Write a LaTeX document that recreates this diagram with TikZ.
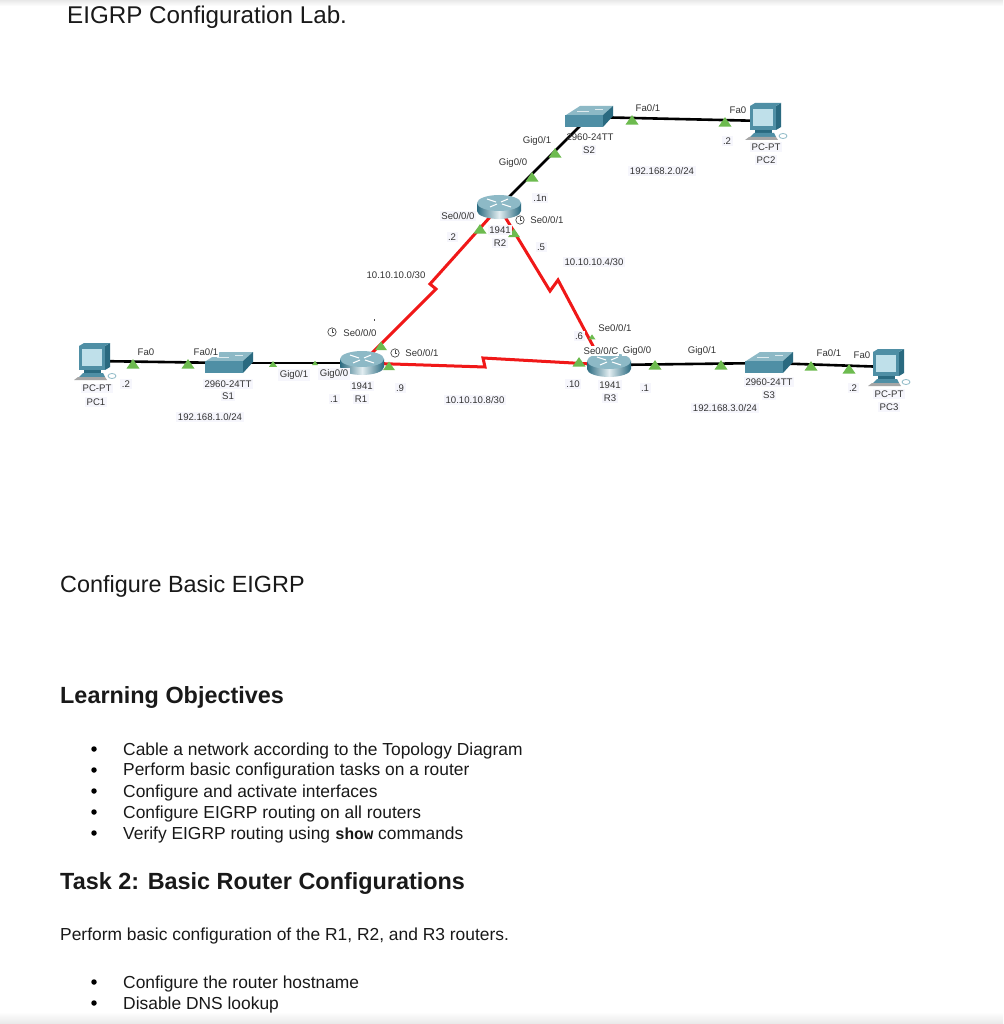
\documentclass[tikz,border=0pt]{standalone}
\usepackage{fontspec}
\setmainfont{Liberation Sans}
\setmonofont{Liberation Mono}
\definecolor{tgreen}{HTML}{6DBB4F}
\definecolor{lblbg}{HTML}{F6F6FC}
\definecolor{linkred}{HTML}{F01818}
\definecolor{tealtop}{HTML}{8DB9C6}
\definecolor{tealfront}{HTML}{4F8FA5}
\definecolor{tealdark}{HTML}{2A6A80}
\definecolor{screenc}{HTML}{BFE0EA}
\tikzset{
  devnode/.style={inner sep=0pt,outer sep=0pt,minimum width=#1},
  lbl/.style={font=\fontsize{9.6}{11}\selectfont,text=black!80,inner sep=1.5pt,fill=lblbg},
  lblplain/.style={font=\fontsize{9.6}{11}\selectfont,text=black!80,inner sep=1pt,fill=white},
  heading/.style={anchor=mid west,inner sep=0pt,font=\fontsize{23.4}{28}\selectfont,text=black!90},
  bhead/.style={anchor=mid west,inner sep=0pt,font=\fontsize{23.4}{28}\selectfont\bfseries,text=black!90},
  body/.style={anchor=mid west,inner sep=0pt,font=\fontsize{17.4}{20}\selectfont,text=black!90},
  dot/.style={circle,fill=black,inner sep=0pt,minimum size=5.5pt},
  blackline/.style={draw=black,line width=2.6pt},
  redline/.style={draw=linkred,line width=3pt,line join=miter},
}
\newcommand{\tri}[3]{\fill[tgreen] (#1-#3,#2+#3*0.7) -- (#1,#2-#3*0.75) -- (#1+#3,#2+#3*0.7) -- cycle;}
\newcommand{\clockmark}[2]{\begin{scope}[shift={(#1,#2)}]
  \draw[black!70,line width=.7pt,fill=white] (0,0) circle (4.2pt);
  \draw[black!70,line width=.7pt] (0,-2.8) -- (0,0) -- (2.4,0);
\end{scope}}
\newcommand{\routerart}[1]{\begin{scope}[shift={(#1)}]
  \shade[left color=tealdark,right color=tealdark,middle color=white!75!tealtop]
    (-22,-4) -- (-22,4) arc[x radius=22,y radius=8,start angle=180,end angle=0] -- (22,-4) -- cycle;
  \fill[tealtop] (0,-4) ellipse[x radius=22,y radius=8];
  \draw[white,line width=1pt] (-12,-8) -- (-3,-5) (12,0) -- (3,-3) (-9,0) -- (-2,-3) (9,-8) -- (2,-5);
\end{scope}}
\newcommand{\switchart}[1]{\begin{scope}[shift={(#1)}]
  \fill[tealtop] (-23,-2) -- (-9,-11) -- (24,-11) -- (14,-2) -- cycle;
  \fill[tealfront] (-24,-2) -- (14,-2) -- (14,10) -- (-24,10) -- cycle;
  \fill[tealdark] (14,-2) -- (24,-11) -- (24,-1) -- (14,10) -- cycle;
  \draw[white!70!tealtop,line width=.6pt] (-12,-6) -- (0,-6) (6,-8) -- (14,-8);
\end{scope}}
\newcommand{\pcart}[1]{\begin{scope}[shift={(#1)}]
  \fill[tealdark] (11,-15) -- (16,-18) -- (16,6) -- (11,9) -- cycle;
  \fill[tealfront] (-15,-15) -- (11,-15) -- (16,-18) -- (-10,-18) -- cycle;
  \fill[tealfront] (-15,-15) rectangle (11,9);
  \fill[screenc] (-12,-12) rectangle (8,5);
  \fill[tealdark] (-10,9) rectangle (7,12);
  \fill[tealfront] (-15,16) -- (-11,12) -- (9,12) -- (11,16) -- cycle;
  \fill[black!35] (-20,19) -- (-16,16) -- (11,16) -- (13,19) -- cycle;
  \draw[tealtop,line width=.8pt] (18,15) ellipse[x radius=4,y radius=2.5];
\end{scope}}
\begin{document}
\begin{tikzpicture}[x=1pt,y=-1pt]
\useasboundingbox (0,0) rectangle (1003,1024);
\fill[white] (0,0) rectangle (1003,1024);
\shade[top color=black!9,bottom color=white] (0,0) rectangle (1003,6);
\shade[top color=white,bottom color=black!9] (0,1012) rectangle (1003,1024);

% device anchors
\node[devnode=30pt,minimum height=30pt] (PC1) at (94,361) {};
\node[devnode=47pt,minimum height=21pt] (S1) at (229,363) {};
\node[devnode=44pt,minimum height=23pt] (R1) at (362,363) {};
\node[devnode=44pt,minimum height=26pt] (R2) at (499,207) {};
\node[devnode=47pt,minimum height=21pt] (S2) at (589,117) {};
\node[devnode=30pt,minimum height=30pt] (PC2) at (765,121) {};
\node[devnode=44pt,minimum height=23pt] (R3) at (609,365) {};
\node[devnode=47pt,minimum height=21pt] (S3) at (769,363) {};
\node[devnode=30pt,minimum height=30pt] (PC3) at (888,367) {};

% zig-zag bends of the serial links
\coordinate (zA1) at (436,289);
\coordinate (zA2) at (430,284);
\coordinate (zB1) at (550,291);
\coordinate (zB2) at (558,280);
\coordinate (zC1) at (485,367);
\coordinate (zC2) at (483,358);

% connectors
\draw[blackline] (PC1.center) -- (S1.center);
\draw[blackline] (S1.center) -- (R1.center);
\draw[blackline] (R2.center) -- (S2.center);
\draw[blackline] (S2.center) -- (PC2.center);
\draw[blackline] (R3.center) -- (S3.center);
\draw[blackline] (S3.center) -- (PC3.center);
\draw[redline] (R1.center) -- (zA1) -- (zA2) -- (R2.center);
\draw[redline] (R2.center) -- (zB1) -- (zB2) -- ([xshift=-12pt]R3.north);
\draw[redline] (R1.center) -- (zC1) -- (zC2) -- (R3.center);

% devices
\pcart{PC1.center}
\switchart{S1.center}
\routerart{R1.center}
\routerart{R2.center}
\switchart{S2.center}
\pcart{PC2.center}
\routerart{R3.center}
\switchart{S3.center}
\pcart{PC3.center}

% link lights
\tri{133}{364}{6.5}\tri{188}{364}{6.5}\tri{273}{364}{4}\tri{315}{363}{3}
\tri{381}{346}{6}\tri{389}{366}{6}
\tri{480}{229}{6.5}\tri{514}{233}{6}
\tri{555}{153}{6.5}\tri{532}{177}{6.5}
\tri{632}{120}{6.5}\tri{725}{122}{6.5}
\tri{592}{337}{3.5}\tri{579}{362}{6.5}\tri{655}{365}{6.5}\tri{721}{365}{6.5}
\tri{811}{366}{6.5}\tri{849}{369}{6.5}

% clocks
\clockmark{332}{332}\clockmark{395}{353}\clockmark{520}{220}
\fill[black!70] (373.5,318.5) rectangle (374.8,320.5);

% S1 side
\node[lblplain] (a1) at (146,352) {Fa0};
\node[lblplain] (a2) at (206,352) {Fa0/1};
\node[lbl] (a3) at (97,388.5) {PC-PT};
\node[lbl] (a4) at (96,402) {PC1};
\node[lbl] (a5) at (126,384) {.2};
\node[lbl] (a6) at (228,384) {2960-24TT};
\node[lbl] (a7) at (228,396) {S1};
\node[lbl] (a8) at (210,417) {192.168.1.0/24};
\node[lbl] (a9) at (294,375) {Gig0/1};
\node[lbl] (a10) at (334,374) {Gig0/0};
\node[lbl] (a11) at (362,386) {1941};
\node[lbl] (a12) at (361,399) {R1};
\node[lbl] (a13) at (334,399) {.1};
\node[lbl] (a14) at (400,388) {.9};
\node[lbl] (a15) at (475,400) {10.10.10.8/30};
\node[lblplain] (a16) at (360,333) {Se0/0/0};
\node[lblplain] (a17) at (422,353) {Se0/0/1};
% R3 side
\node[lblplain] (b1) at (615,328) {Se0/0/1};
\node[lbl] (b2) at (579,336) {.6};
\node[lblplain] (b3) at (601,351) {Se0/0/C};
\node[lblplain] (b4) at (637,351) {Gig0/0};
\node[lblplain] (b5) at (702,351) {Gig0/1};
\node[lbl] (b6) at (610,385) {1941};
\node[lbl] (b7) at (610,398) {R3};
\node[lbl] (b8) at (573,384) {.10};
\node[lbl] (b9) at (645,388) {.1};
\node[lbl] (b10) at (769,382) {2960-24TT};
\node[lbl] (b11) at (769,395) {S3};
\node[lbl] (b12) at (725,408) {192.168.3.0/24};
\node[lblplain] (b13) at (829,353) {Fa0/1};
\node[lblplain] (b14) at (862,355) {Fa0};
\node[lbl] (b15) at (853,388) {.2};
\node[lbl] (b16) at (889,394) {PC-PT};
\node[lbl] (b17) at (889,407) {PC3};
% R2 side
\node[lbl] (c1) at (458,216) {Se0/0/0};
\node[lbl] (c2) at (452,237) {.2};
\node[lbl] (c3) at (500,230) {1941};
\node[lbl] (c4) at (500,243) {R2};
\node[lblplain] (c5) at (547,220) {Se0/0/1};
\node[lbl] (c6) at (541,247) {.5};
\node[lbl] (c7) at (594,262) {10.10.10.4/30};
\node[lbl] (c8) at (540,198) {.1n};
\node[lblplain] (c9) at (513,163) {Gig0/0};
\node[lblplain] (c10) at (537,141) {Gig0/1};
\node[inner sep=0pt,font=\fontsize{9.6}{11}\selectfont,text=black!80] (c11) at (590,137) {2960-24TT};
\node[lbl] (c12) at (589,150) {S2};
\node[lbl] (c13) at (662,171) {192.168.2.0/24};
\node[lblplain] (c14) at (648,108) {Fa0/1};
\node[lblplain] (c15) at (738,110) {Fa0};
\node[lbl] (c16) at (727,141) {.2};
\node[lbl] (c17) at (766,147) {PC-PT};
\node[lbl] (c18) at (766,160) {PC2};
\node[lbl,fill=white] (c19) at (396,275) {10.10.10.0/30};

% document text
\node[heading,font=\fontsize{24.2}{28}\selectfont] (title) at (67,21) {EIGRP Configuration Lab.};
\node[heading] (h1) at (60,590) {Configure Basic EIGRP};
\node[bhead] (h2) at (60,701) {Learning Objectives};
\node[body] (l1) at (123,752.5) {Cable a network according to the Topology Diagram};
\node[body] (l2) at (123,773) {Perform basic configuration tasks on a router};
\node[body] (l3) at (123,794.5) {Configure and activate interfaces};
\node[body] (l4) at (123,815.5) {Configure EIGRP routing on all routers};
\node[body] (l5) at (123,836.5) {Verify EIGRP routing using {\ttfamily\bfseries\fontsize{16}{16}\selectfont show} commands};
\node[bhead] (h3) at (60,887) {Task 2: Basic Router Configurations};
\node[body] (p1) at (60,937.5) {Perform basic configuration of the R1, R2, and R3 routers.};
\node[body] (l6) at (123,985.5) {Configure the router hostname};
\node[body] (l7) at (123,1006.5) {Disable DNS lookup};
\node[dot] (d1) at (94,749) {};
\node[dot] (d2) at (94,770) {};
\node[dot] (d3) at (94,791) {};
\node[dot] (d4) at (94,812) {};
\node[dot] (d5) at (94,833) {};
\node[dot] (d6) at (94,982) {};
\node[dot] (d7) at (94,1003) {};
\end{tikzpicture}
\end{document}
